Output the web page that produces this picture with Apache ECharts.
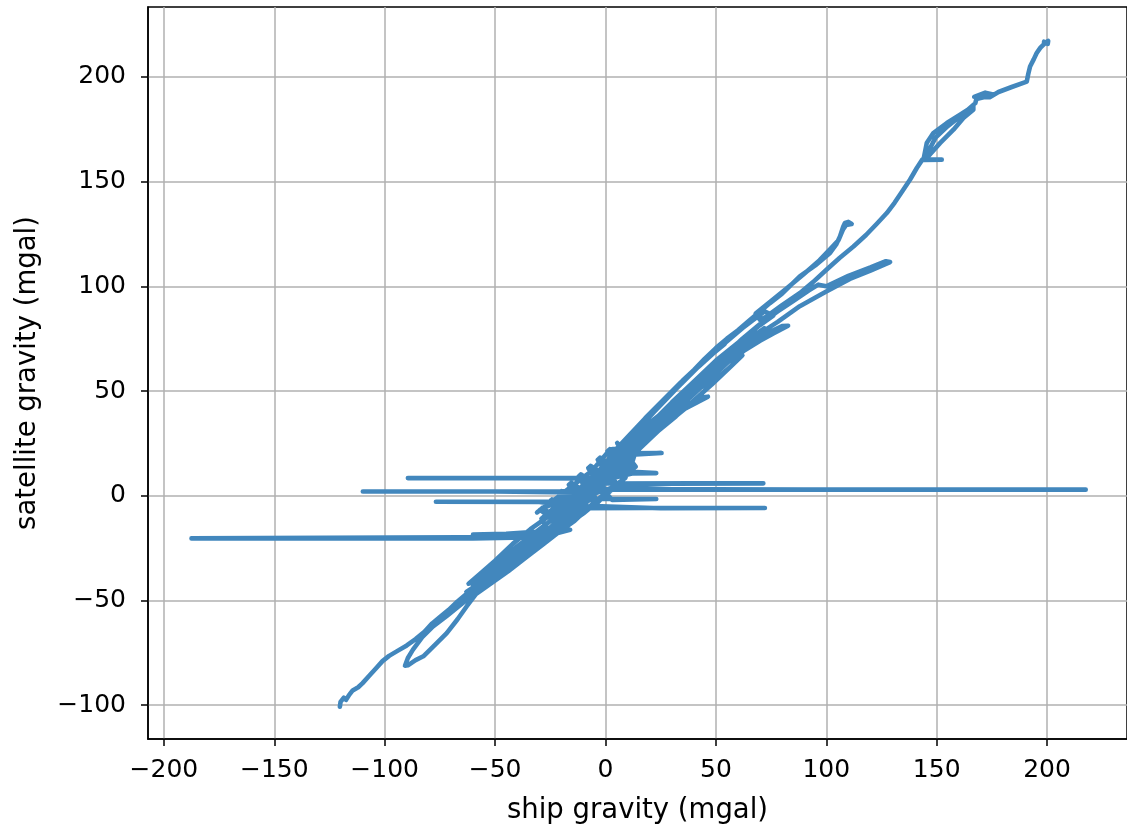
<!DOCTYPE html>
<html>
<head>
<meta charset="utf-8">
<script src="https://cdn.jsdelivr.net/npm/echarts@6/dist/echarts.min.js"></script>
<style>
html,body{margin:0;padding:0;background:#fff;}
#chart{width:1127px;height:835px;}
</style>
</head>
<body>
<div id="chart"></div>
<script>
// Tick values
const xTickValues = [-200, -150, -100, -50, 0, 50, 100, 150, 200];
const yTickValues = [-100, -50, 0, 50, 100, 150, 200];

// Path segments (ship gravity, satellite gravity), in drawing order
const lowerLeg = [[-120.3,-100.8],[-120,-98.5],[-118.5,-96.5],[-117.5,-97.5],[-116,-95],[-114.5,-93],[-112,-91.5],[-110,-89.5],[-107,-86],[-104,-82.5],[-101,-79],[-98,-76.5],[-94,-74],[-90,-71.5],[-86,-68.5],[-82,-65],[-78.5,-61],[-75,-58],[-71,-54.5],[-67,-50.5],[-63,-47],[-59,-44],[-55,-41.5],[-50,-38],[-45,-34.5],[-40,-31],[-35,-27.5],[-30,-23.5],[-26,-19.5],[-22,-15.5],[-18,-11.5],[-14,-7.5],[-10,-3.5],[-6,0.5],[-2,4.5],[2,9],[6,13.5]];
const centerSpikes = [[10,11.5],[23,10.8],[12,10.6],[4,8.6],[-4,8.5],[-30,8.4],[-89.5,8.4],[-40,8.3],[-10,8.2],[-4,6]];
const cluster = [[-29.7,-6.8],[-18.1,-15.2],[-25.3,-2.8],[-13.7,-11.2],[-20.9,1.2],[-9.4,-7.2],[-16.6,5.2],[-5,-3.2],[-12.2,9.2],[-0.6,0.8],[-7.8,13.2],[3.8,4.8],[-3.5,17.2],[8.1,8.8],[0.9,21.2],[12.5,12.8],[5.3,25.2],[13.7,13.9],[2,22.2],[9.2,9.8],[-2.4,18.2],[4.9,5.8],[-6.7,14.2],[0.5,1.8],[-11.1,10.2],[-3.9,-2.2],[-15.5,6.2],[-8.3,-6.2],[-19.9,2.2],[-12.6,-10.2],[-24.2,-1.8],[-17,-14.2],[-28.6,-5.8]];
const clusterB = [[-29.2,-6.3],[-17.6,-14.7],[-24.8,-2.3],[-13.2,-10.7],[-20.4,1.7],[-8.9,-6.7],[-16.1,5.7],[-4.5,-2.7],[-11.7,9.7],[-0.1,1.3],[-7.3,13.7],[4.3,5.3],[-3,17.7],[8.6,9.3],[1.4,21.7],[13,13.3],[13.2,13.4],[1.5,21.7],[8.7,9.3],[-2.9,17.7],[4.4,5.3],[-7.2,13.7],[0,1.3],[-11.6,9.7],[-4.4,-2.7],[-16,5.7],[-8.8,-6.7],[-20.4,1.7],[-13.1,-10.7],[-24.7,-2.3],[-17.5,-14.7],[-29.1,-6.3]];
const blobStrokes = [[-31,-8],[-22,-1],[-14,5.5],[-6,12],[2,22],[8,23],[0,15],[-8,7],[-16,-0.5],[-24,-6.5],[-29,-11],[-26,-16.2],[-18,-8],[-10,-0.5],[-2,7],[6,13.5],[13,19],[11,12],[6,5.5],[-2,-1.5],[-10,-8.5],[-16,-13],[-22,-17],[-14,-12],[-6,-4],[2,3],[9,8.5],[11,15],[4,10.5],[-4,3],[-12,-4],[-20,-10.5]];
const rightLong = [[-2,3],[40,2.9],[217.5,2.9],[90,2.9],[8,3.2],[-3,2.4]];
const leftMid = [[-20,2.1],[-60,2.0],[-109.9,2.0],[-50,2.0],[-14,1.6]];
const rightUpper = [[0,5.8],[40,5.9],[71.5,5.9],[30,5.7],[5,4.6]];
const leftLower = [[-16,-2.9],[-76.8,-2.9],[-30,-3],[-18,-4.5]];
const rightLower = [[-10,-6],[20,-5.9],[72.2,-5.9],[25,-6],[-5,-5]];
const shortSpikes = [[-2,-1.5],[23,-1.6],[3,-2],[-3,5],[0,12],[5,20.2],[25.4,20.4],[10,19.5],[0,9]];
const loopPass = [[-20,-12],[-30,-21],[-40,-28.5],[-50,-36],[-56,-41.5],[-62,-49],[-67.4,-53.6],[-72,-57.5],[-78.1,-62.4],[-83,-67.5],[-87.2,-73.5],[-89.5,-77.5],[-90.8,-81.2],[-89.5,-81],[-86,-78.5],[-82.5,-76.7],[-77,-71],[-71.9,-65.6],[-67,-59],[-62.9,-52.9],[-58,-46],[-52,-40.5],[-45,-35.5],[-38,-30],[-32,-25.5],[-26,-21],[-20,-15]];
const farLeftSpike = [[-22,-17],[-35,-19.8],[-187.5,-20.4],[-60,-20.4],[-36,-20],[-26,-19],[-16,-16.3],[-40,-18.7],[-60,-18.6],[-45,-18.2],[-28,-17]];
const thirdPass = [[-16,-12],[-26,-17],[-34,-23],[-44,-30.5],[-54,-38],[-60,-43],[-52,-38],[-42,-31],[-32,-25],[-24,-19],[-16,-13],[-8,-5]];
const lowerBandA = [[-18,-4],[-26,-10],[-34,-16],[-42,-23],[-50,-31],[-57,-37.5],[-62,-42],[-56,-39],[-48,-32],[-40,-25.5],[-32,-18.5],[-24,-11]];
const lowerBandB = [[-14,-12],[-22,-18],[-30,-24.5],[-38,-31],[-46,-37],[-54,-43],[-60,-48],[-52,-42],[-44,-36],[-36,-29.5],[-28,-23],[-20,-16.5]];
const lowerBandC = [[-20,-8],[-28,-14.5],[-36,-21],[-44,-27.5],[-52,-34.5],[-58,-40],[-50,-34],[-40,-27],[-30,-20.5],[-22,-13.5],[-12,-6],[-6,-1]];
const lowerBandD = [[-10,-4],[-18,-10],[-26,-16],[-34,-22.5],[-42,-29],[-50,-35.5],[-58,-42.5],[-63,-46],[-56,-42],[-48,-36],[-40,-30],[-32,-23.5],[-24,-17],[-16,-11],[-6,0]];
const bandLower = [[-2,6],[5,12],[10,17],[15,22],[20,27],[26,33],[36,41.5],[46.4,47.3],[44,47],[36,43],[30,39],[35,44.5],[42,51],[50.4,56],[57,62],[62.3,69],[70,74],[76,77.5],[82.7,81.2],[80,81],[72,77],[64,72],[70,77.5],[78,83],[88,90.5],[100,97.5],[110.7,103.5],[120,107.5],[128.9,111.6],[127,112],[120,109],[110,105],[100,100],[96.4,100.8],[92,98],[85,93],[78,88],[70,82],[62,75],[55,68],[48,61],[40,52],[32,43],[24,34],[16,24],[8,15]];
const bandMidA = [[2,7],[10,17],[20,29],[30,39],[40,48.5],[50,58.5],[60,68],[70,76],[72,80],[64,74],[55,66],[45,56.5],[35,46],[25,37],[15,26],[5,13],[-2,6]];
const bandMidB = [[0,10],[10,23],[20,34],[30,44.5],[40,54.5],[50,64.5],[60,73],[70,81.5],[76,86],[72,88],[62,80],[52,71],[42,61.5],[32,51],[22,40],[12,28.5],[2,17]];
const bandMidC = [[4,10],[12,20],[18,25.5],[24,31],[32,38],[40,45.5],[48,53],[56,61],[62,67],[58,66],[50,60],[42,53],[34,46.5],[28,41.5],[22,36.5],[16,31],[10,24.5],[4,17],[2,13]];
const bandMidD = [[6,15],[14,24],[22,33],[30,41.5],[38,50],[46,58.5],[54,66],[62,72.5],[68,78],[60,72],[52,64.5],[44,57],[36,49],[28,40],[20,31],[12,21.5],[4,11.5]];
const bandEdge = [[-2,13],[6,22.5],[14,31.5],[22,40.5],[30,49.5],[38,58],[46,65.5],[54,72.5],[50,69.5],[42,62],[34,54],[26,45.5],[18,37],[10,28],[2,19]];
const bandUpper = [[0,14],[5,20],[10,26],[15,32],[20,38],[25,43.5],[30,49],[35,55],[40,60],[45,65.5],[50,70.5],[55,75],[60,79],[65,83.5],[70,88],[74.5,92],[80,96.5],[88,104.7],[95,110],[101.7,115.9],[104.5,120],[106.2,123.8],[107.7,128.6],[108.5,130.3],[110,130.8],[111.5,129.8],[109,129.3],[107.5,127],[105.5,122],[102,118],[97,112.5],[90,106],[82,99],[75,93],[68,87]];
const trunk = [[70,84],[73,85.6],[80,91],[88.1,96.8],[94,102],[100.2,108],[106,113.5],[112.3,119],[118,124.5],[123,130],[127.4,135],[131,140],[134.5,145.5],[137.9,150.9],[141,156.5],[143.5,160.5],[152.3,160.5],[144,160.3],[145.5,168.4],[148.5,173.2],[154.6,178],[160.6,182],[166.6,186],[166.6,184.3],[162.1,180.4],[157.6,174.8],[151.5,168.4],[145.5,161.3],[146.5,165],[149.5,171],[155,176.5],[161,181.5],[167.5,187.5],[168,189.5],[176,191.5],[172,192.5],[167,190.5],[174,190.3],[178,192.8],[184,195.2],[190.8,197.8],[191.5,201.5],[192.3,205],[194,208.5],[195.3,211.4],[197,214],[199.1,216.2],[200.5,217.2],[200.3,215.8],[198.6,216.8]];

const pathData = [].concat(lowerLeg, centerSpikes, cluster, clusterB, blobStrokes, rightLong, leftMid, rightUpper,
  leftLower, rightLower, shortSpikes, loopPass, farLeftSpike, thirdPass, lowerBandA, lowerBandB, lowerBandC, lowerBandD,
  bandLower, bandMidA, bandMidB, bandMidC, bandMidD, bandEdge, bandUpper, trunk);

const fmt = v => (v < 0 ? '\u2212' + Math.abs(v) : String(v));
const FONT = 'DejaVu Sans';

const chart = echarts.init(document.getElementById('chart'), null, {renderer: 'canvas'});
chart.setOption({
  animation: false,
  backgroundColor: '#ffffff',
  grid: {left: 148, top: 7, width: 979, height: 732, containLabel: false, outerBoundsMode: 'none',
         show: true, borderColor: '#000', borderWidth: 1.5, backgroundColor: 'transparent'},
  xAxis: {
    type: 'value', min: -207.2, max: 236.2, splitNumber: 9, minInterval: 50, maxInterval: 50,
    name: 'ship gravity (mgal)', nameLocation: 'middle', nameGap: 58,
    nameTextStyle: {fontFamily: FONT, fontSize: 27.5, color: '#000'},
    axisLine: {show: true, onZero: false, lineStyle: {color: '#000', width: 1.5}},
    axisTick: {show: true, inside: false, length: 7, lineStyle: {color: '#000', width: 1.5}, customValues: xTickValues},
    axisLabel: {fontFamily: FONT, fontSize: 25, color: '#000', margin: 19, customValues: xTickValues, formatter: fmt},
    splitLine: {show: true, lineStyle: {color: '#b0b0b0', width: 1.5}}
  },
  yAxis: {
    type: 'value', min: -116.2, max: 233.4, splitNumber: 7, minInterval: 50, maxInterval: 50,
    name: 'satellite gravity (mgal)', nameLocation: 'middle', nameGap: 106, nameRotate: 90,
    nameTextStyle: {fontFamily: FONT, fontSize: 27.5, color: '#000'},
    axisLine: {show: true, onZero: false, lineStyle: {color: '#000', width: 1.5}},
    axisTick: {show: true, inside: false, length: 7, lineStyle: {color: '#000', width: 1.5}, customValues: yTickValues},
    axisLabel: {fontFamily: FONT, fontSize: 25, color: '#000', margin: 22, customValues: yTickValues, formatter: fmt},
    splitLine: {show: true, lineStyle: {color: '#b0b0b0', width: 1.5}}
  },
  series: [{
    type: 'line', data: pathData, showSymbol: false, symbol: 'none', smooth: false,
    lineStyle: {color: '#4287bd', width: 4.6, cap: 'round', join: 'round'},
    itemStyle: {color: '#4287bd'}, emphasis: {disabled: true}, silent: true
  }]
});
</script>
</body>
</html>
